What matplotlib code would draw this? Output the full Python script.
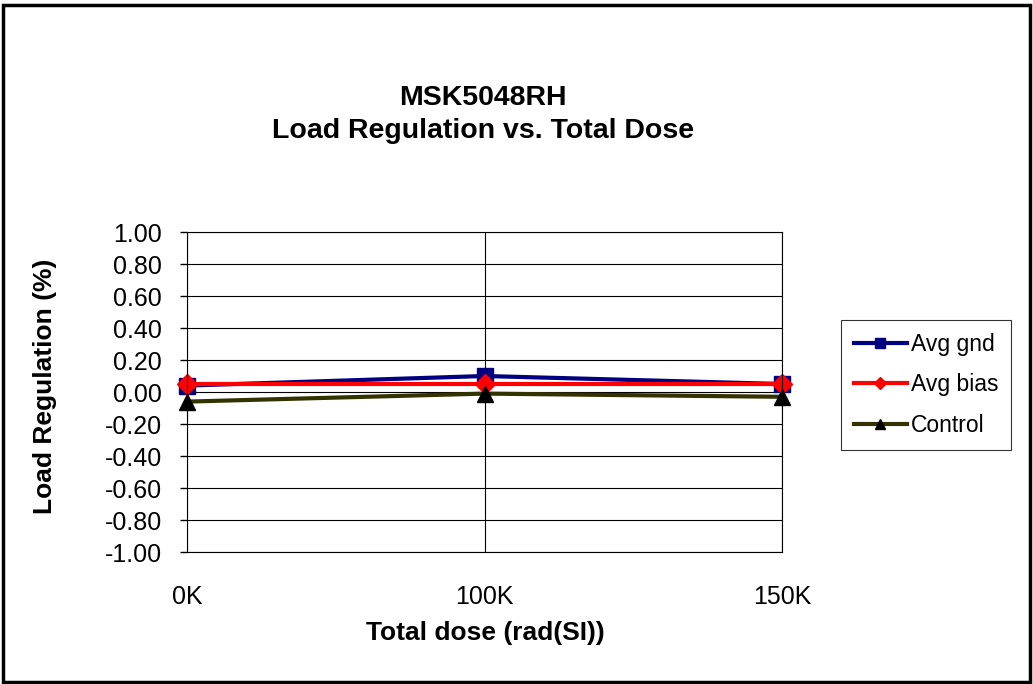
import matplotlib.pyplot as plt
from matplotlib.patches import Rectangle

plt.rcParams['font.family'] = ['Liberation Sans', 'DejaVu Sans']

# data
doses = ['0K', '100K', '150K']
avg_gnd = [0.04, 0.10, 0.05]
avg_bias = [0.05, 0.05, 0.05]
control = [-0.06, -0.01, -0.03]
y_ticks = [1.00, 0.80, 0.60, 0.40, 0.20, 0.00, -0.20, -0.40, -0.60, -0.80, -1.00]

W, H = 1033, 684
fig = plt.figure(figsize=(W / 100, H / 100), dpi=100)
# outer frame
fig.patches.append(Rectangle((0.003, 0.003), 0.994, 0.99, transform=fig.transFigure,
                             fill=False, edgecolor='black', linewidth=2.5))

ax = fig.add_axes([187 / W, 1 - 552 / H, (782 - 187) / W, (552 - 232) / H])
x = list(range(len(doses)))

ax.plot(x, avg_gnd, '-s', color='#000080', linewidth=3, markersize=12,
        clip_on=False, label='Avg gnd')
ax.plot(x, avg_bias, '-D', color='#ff0000', linewidth=3, markersize=10,
        clip_on=False, label='Avg bias')
ax.plot(x, control, '-^', color='#333300', linewidth=3, markersize=12,
        markerfacecolor='black', markeredgecolor='black', clip_on=False,
        label='Control')

ax.set_xlim(0, 2)
ax.set_ylim(-1, 1)
ax.set_xticks(x)
ax.set_xticklabels(doses)
ax.set_yticks(y_ticks)
ax.set_yticklabels([f'{v:.2f}' for v in y_ticks])
ax.tick_params(axis='both', labelsize=18, length=5, width=1, color='black')
ax.tick_params(axis='y', pad=13)
ax.tick_params(axis='x', length=0, pad=24)
ax.grid(True, color='black', linewidth=0.8)
ax.set_axisbelow(True)
for s in ax.spines.values():
    s.set_linewidth(0.8)

ax.set_xlabel('Total dose (rad(SI))', fontsize=19, fontweight='bold')
ax.xaxis.set_label_coords(0.502, (552 - 633) / 320)
ax.xaxis.label.set_va('center')
ax.set_ylabel('Load Regulation (%)', fontsize=19, fontweight='bold')
ax.yaxis.set_label_coords((45 - 187) / 595, (552 - 386) / 320)
ax.yaxis.label.set_va('center')

fig.text(483 / W, 1 - 98 / H, 'MSK5048RH', ha='center', va='center',
         fontsize=20.5, fontweight='bold')
fig.text(483 / W, 1 - 131 / H, 'Load Regulation vs. Total Dose', ha='center',
         va='center', fontsize=20.5, fontweight='bold')

leg = ax.legend(loc='center left', bbox_to_anchor=(830 / W, 1 - 385 / H),
                bbox_transform=fig.transFigure, fontsize=16.5, frameon=True,
                fancybox=False, edgecolor='black', handlelength=2.3,
                labelspacing=0.78, borderpad=0.55, handletextpad=0.2,
                markerscale=0.65)
leg.get_frame().set_linewidth(0.8)

fig.savefig('out.png', dpi=100)
